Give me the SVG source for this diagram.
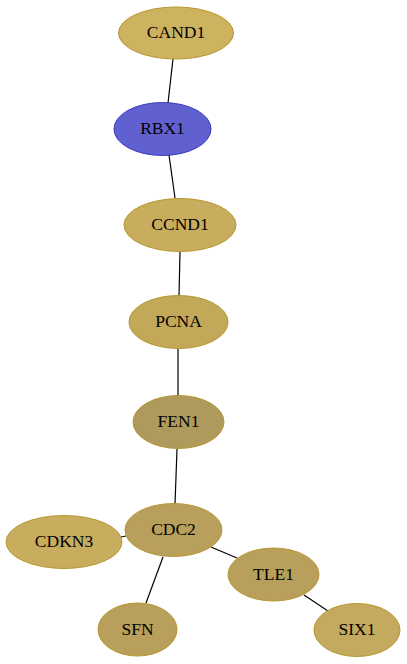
<svg xmlns="http://www.w3.org/2000/svg" width="407" height="664" viewBox="0 0 407 664">
<style>
.n ellipse{stroke:#b8962e;stroke-width:1}
.n text{font-family:"Liberation Serif","Times New Roman",serif;font-size:17.5px;text-anchor:middle;fill:#000}
#edges line{stroke:#000;stroke-width:1.2}
</style>
<rect width="407" height="664" fill="#fff"/>
<g id="edges">
<line x1="173" y1="59" x2="168" y2="103"/>
<line x1="169" y1="155" x2="175" y2="198"/>
<line x1="180" y1="252" x2="179" y2="296"/>
<line x1="178" y1="349" x2="178" y2="396"/>
<line x1="177" y1="449" x2="175" y2="504"/>
<line x1="126" y1="536" x2="121" y2="537"/>
<line x1="211" y1="547" x2="237" y2="558"/>
<line x1="163" y1="557" x2="146" y2="603"/>
<line x1="304" y1="595" x2="328" y2="611"/>
</g>
<g id="CAND1" class="n"><ellipse cx="176" cy="33" rx="57.5" ry="26" fill="#cdb35f"/><text x="176" y="38">CAND1</text></g>
<g id="RBX1" class="n"><ellipse cx="162.5" cy="129" rx="48.5" ry="26.5" fill="#6060d0" style="stroke:#3a3abf"/><text x="162.5" y="134">RBX1</text></g>
<g id="CCND1" class="n"><ellipse cx="180" cy="225" rx="56" ry="26.5" fill="#c9ad5f"/><text x="180" y="230">CCND1</text></g>
<g id="PCNA" class="n"><ellipse cx="178.5" cy="322" rx="49.5" ry="26.5" fill="#c2a95a"/><text x="178.5" y="327">PCNA</text></g>
<g id="FEN1" class="n"><ellipse cx="178.5" cy="422" rx="45.5" ry="26.5" fill="#ae9a5c"/><text x="178.5" y="427">FEN1</text></g>
<g id="CDC2" class="n"><ellipse cx="173.5" cy="530" rx="48.5" ry="26.5" fill="#b8a05c"/><text x="173.5" y="535">CDC2</text></g>
<g id="CDKN3" class="n"><ellipse cx="64" cy="542" rx="58" ry="26.5" fill="#c8ad5e"/><text x="64" y="547">CDKN3</text></g>
<g id="TLE1" class="n"><ellipse cx="273.5" cy="574.5" rx="45.5" ry="26.5" fill="#b8a05c"/><text x="273.5" y="579.5">TLE1</text></g>
<g id="SFN" class="n"><ellipse cx="137.5" cy="629.5" rx="39.5" ry="26.5" fill="#b8a05c"/><text x="137.5" y="634.5">SFN</text></g>
<g id="SIX1" class="n"><ellipse cx="357" cy="630" rx="43" ry="26.5" fill="#c4aa5e"/><text x="357" y="635">SIX1</text></g>
</svg>
